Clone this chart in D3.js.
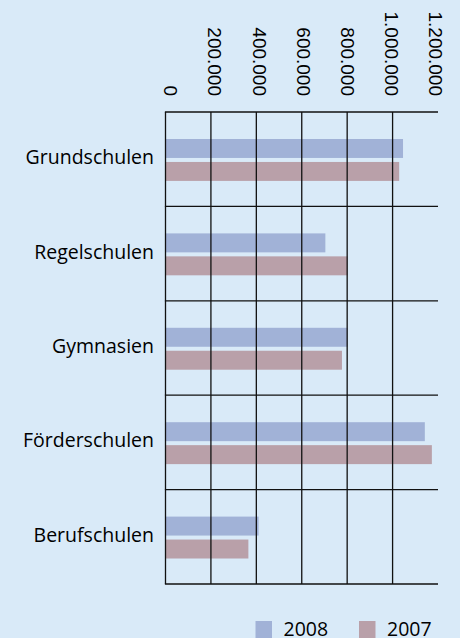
<!DOCTYPE html>
<html>
<head>
<meta charset="utf-8">
<script src="https://cdn.jsdelivr.net/npm/d3@7"></script>
<style>
  body { margin: 0; background: #d9eaf8; }
  svg { display: block; }
</style>
</head>
<body>
<div class="chart"></div>
<script>
var width = 460
var height = 638

var categories = ['Grundschulen', 'Regelschulen', 'Gymnasien', 'Förderschulen', 'Berufschulen']
var series = ['2008', '2007']
var values2008 = [1046000, 704000, 802000, 1142000, 410000]
var values2007 = [1029000, 802000, 777000, 1173000, 365000]
var ticks = [0, 200000, 400000, 600000, 800000, 1000000, 1200000]
var tickLabels = ['0', '200.000', '400.000', '600.000', '800.000', '1.000.000', '1.200.000']
var colors = {'2008': '#a1b2d7', '2007': '#b9a0a9'}

var svg = d3.select('.chart')
  .append('svg')
  .attr('width', width)
  .attr('height', height)

svg.append('rect')
  .attr('width', width)
  .attr('height', height)
  .attr('fill', '#d9eaf8')

var x = d3.scaleLinear().domain([0, 1200000]).range([165.5, 438])
// tick labels sit slightly off the grid in the original
var xLabel = d3.scaleLinear().domain([0, 1200000]).range([171, 436])
var y = d3.scaleBand().domain(categories).range([112, 584])
var ySub = d3.scaleBand().domain(series)
  .range([y.bandwidth() * 0.286, y.bandwidth() * 0.73])
  .paddingInner(0.174)

var rows = categories.map(function(c, i) {
  return {cat: c, values: [{s: '2008', v: values2008[i]}, {s: '2007', v: values2007[i]}]}
})

// bars
var groups = svg.selectAll('g.row')
  .data(rows)
  .enter().append('g')
  .attr('class', 'row')
  .attr('transform', function(d) { return 'translate(0,' + y(d.cat) + ')' })

groups.selectAll('rect')
  .data(function(d) { return d.values })
  .enter().append('rect')
  .attr('x', x(0))
  .attr('y', function(d) { return ySub(d.s) })
  .attr('width', function(d) { return x(d.v) - x(0) })
  .attr('height', ySub.bandwidth())
  .attr('fill', function(d) { return colors[d.s] })

// grid: vertical lines (no line at the last tick)
svg.selectAll('line.v')
  .data(ticks.slice(0, -1))
  .enter().append('line')
  .attr('class', 'v')
  .attr('x1', function(d) { return x(d) })
  .attr('x2', function(d) { return x(d) })
  .attr('y1', 112)
  .attr('y2', 584)
  .attr('stroke', '#111')
  .attr('stroke-width', 1.3)

// horizontal lines at band edges
var edges = categories.map(function(c) { return y(c) }).concat([y.range()[1]])
svg.selectAll('line.h')
  .data(edges)
  .enter().append('line')
  .attr('class', 'h')
  .attr('x1', x(0) - 0.6)
  .attr('x2', x(1200000))
  .attr('y1', function(d) { return d })
  .attr('y2', function(d) { return d })
  .attr('stroke', '#111')
  .attr('stroke-width', 1.3)

// rotated tick labels
svg.selectAll('text.tick')
  .data(ticks)
  .enter().append('text')
  .attr('class', 'tick')
  .attr('transform', function(d) { return 'translate(' + (xLabel(d) - 6.8) + ',96) rotate(90)' })
  .attr('text-anchor', 'end')
  .attr('font-family', 'Liberation Sans, Arial, sans-serif')
  .attr('font-size', 19)
  .attr('fill', '#000')
  .text(function(d, i) { return tickLabels[i] })

// category labels
svg.selectAll('text.cat')
  .data(categories)
  .enter().append('text')
  .attr('class', 'cat')
  .attr('x', 154)
  .attr('y', function(d) { return y(d) + y.bandwidth() / 2 + 5 })
  .attr('text-anchor', 'end')
  .attr('font-family', 'Open Sans, sans-serif')
  .attr('font-size', 19.5)
  .attr('fill', '#000')
  .text(function(d) { return d })

// legend
var legendX = {'2008': 255.5, '2007': 359}
var legend = svg.selectAll('g.legend')
  .data(series)
  .enter().append('g')
  .attr('class', 'legend')
  .attr('transform', function(d) { return 'translate(' + legendX[d] + ',621)' })

legend.append('rect')
  .attr('width', 16.5)
  .attr('height', 17)
  .attr('fill', function(d) { return colors[d] })

legend.append('text')
  .attr('x', 28)
  .attr('y', 15)
  .attr('font-family', 'Open Sans, sans-serif')
  .attr('font-size', 19.5)
  .attr('fill', '#000')
  .text(function(d) { return d })
</script>
</body>
</html>
